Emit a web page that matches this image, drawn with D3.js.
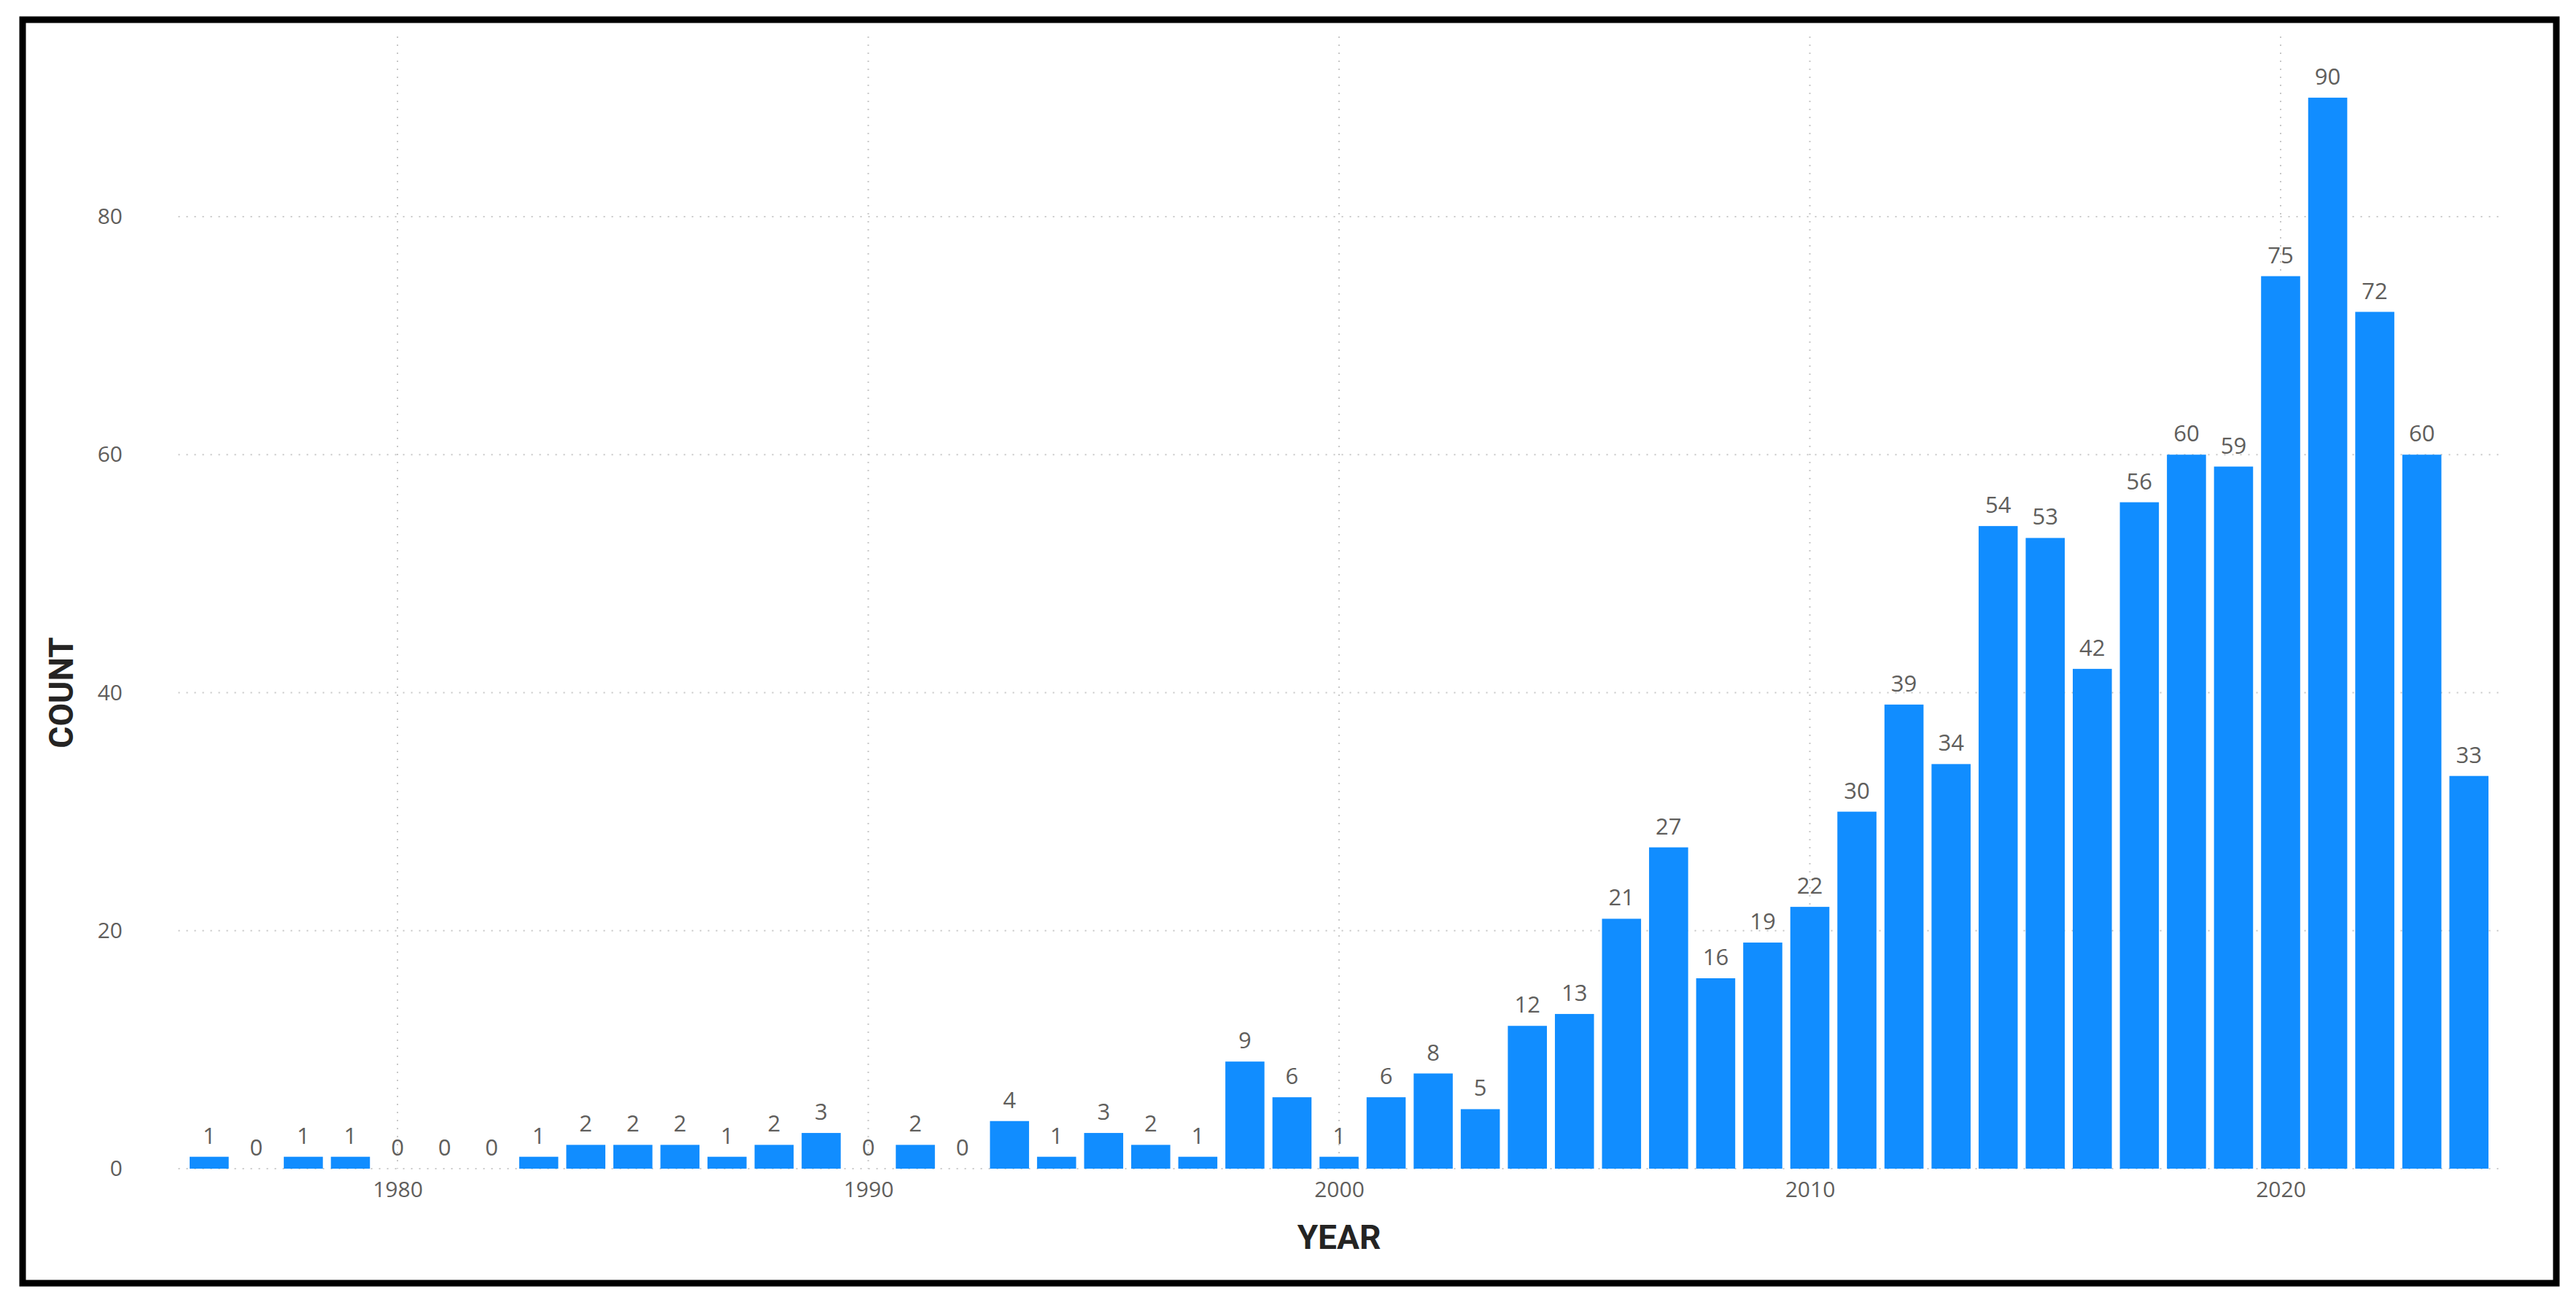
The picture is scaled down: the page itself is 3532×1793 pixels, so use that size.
<!DOCTYPE html>
<html>
<head>
<meta charset="utf-8">
<script src="https://cdn.jsdelivr.net/npm/d3@7"></script>
<style>
  body { margin: 0; background: #fff; }
  svg { display: block; }
</style>
</head>
<body>
<div id="chart"></div>
<script>
const years = d3.range(1976, 2025);
const counts = [1,0,1,1,0,0,0,1,2,2,
                2,1,2,3,0,2,0,4,1,3,
                2,1,9,6,1,6,8,5,12,13,
                21,27,16,19,22,30,39,34,54,53,
                42,56,60,59,75,90,72,60,33];
const yTicks = [0, 20, 40, 60, 80];
const xTicks = [1980, 1990, 2000, 2010, 2020];

const w = 3532, h = 1793;
const x0 = 1975.5, x1 = 2024.5;
const svg = d3.select('#chart').append('svg').attr('width', w).attr('height', h);

// frame
svg.append('rect').attr('x', 31).attr('y', 27).attr('width', 3474).attr('height', 1732)
  .attr('fill', 'none').attr('stroke', '#000').attr('stroke-width', 9);

const xScale = d3.scaleLinear().domain([x0, x1]).range([x0 > 0 ? 252 : 0, 3417]);
// per-year width ~64.6 px: 1980 -> 545, 2020 -> 3127
xScale.domain([1980, 2020]).range([545, 3127]);
const step = xScale(1981) - xScale(1980);
const yScale = d3.scaleLinear().domain([0, 80]).range([1602, 297]);

// gridlines
svg.append('g').selectAll('line').data(yTicks.slice(1)).enter().append('line')
  .attr('x1', xScale(x0) - 10).attr('x2', xScale(x1) + 10)
  .attr('y1', d => yScale(d)).attr('y2', d => yScale(d))
  .attr('stroke', '#c8c8c8').attr('stroke-width', 2).attr('stroke-dasharray', '2,9');
svg.append('g').selectAll('line').data(xTicks).enter().append('line')
  .attr('x1', d => xScale(d)).attr('x2', d => xScale(d))
  .attr('y1', 50).attr('y2', yScale(0))
  .attr('stroke', '#c8c8c8').attr('stroke-width', 2).attr('stroke-dasharray', '2,9');
svg.append('line').attr('x1', xScale(x0) - 10).attr('x2', xScale(x1) + 10)
  .attr('y1', yScale(0)).attr('y2', yScale(0))
  .attr('stroke', '#c8c8c8').attr('stroke-width', 2).attr('stroke-dasharray', '2,9');

// axes
const yAxis = d3.axisLeft(yScale).tickValues(yTicks).tickSize(0).tickPadding(0);
const gy = svg.append('g').attr('transform', 'translate(168,0)').call(yAxis);
gy.select('.domain').remove();
gy.selectAll('text').attr('font-family', 'Open Sans').attr('font-size', 30).attr('fill', '#605e5c');

const xAxis = d3.axisBottom(xScale).tickValues(xTicks).tickFormat(d3.format('d')).tickSize(0).tickPadding(0);
const gx = svg.append('g').attr('transform', 'translate(0,' + (yScale(0) + 18) + ')').call(xAxis);
gx.select('.domain').remove();
gx.selectAll('text').attr('font-family', 'Open Sans').attr('font-size', 30).attr('fill', '#605e5c');

// bars
const bw = step * 0.83;
svg.append('g').selectAll('rect').data(counts).enter().append('rect')
  .attr('x', (d, i) => xScale(years[i]) - bw / 2)
  .attr('y', d => yScale(d))
  .attr('width', bw)
  .attr('height', d => yScale(0) - yScale(d))
  .attr('fill', '#118dff');

// labels
svg.append('g').selectAll('text').data(counts).enter().append('text')
  .attr('x', (d, i) => xScale(years[i]))
  .attr('y', d => yScale(d) - 18)
  .attr('text-anchor', 'middle')
  .attr('font-family', 'Open Sans').attr('font-size', 31).attr('fill', '#605e5c')
  .text(d => d);

// titles
svg.append('text').text('YEAR').attr('x', (xScale(x0) + xScale(x1)) / 2).attr('y', 1712)
  .attr('text-anchor', 'middle').attr('font-family', 'Roboto').attr('font-weight', 'bold')
  .attr('font-size', 46).attr('fill', '#252423');
svg.append('text').text('COUNT').attr('transform', 'translate(100,' + yScale(40) + ') rotate(-90)')
  .attr('text-anchor', 'middle').attr('font-family', 'Roboto').attr('font-weight', 'bold')
  .attr('font-size', 46).attr('fill', '#252423');
</script>
</body>
</html>
